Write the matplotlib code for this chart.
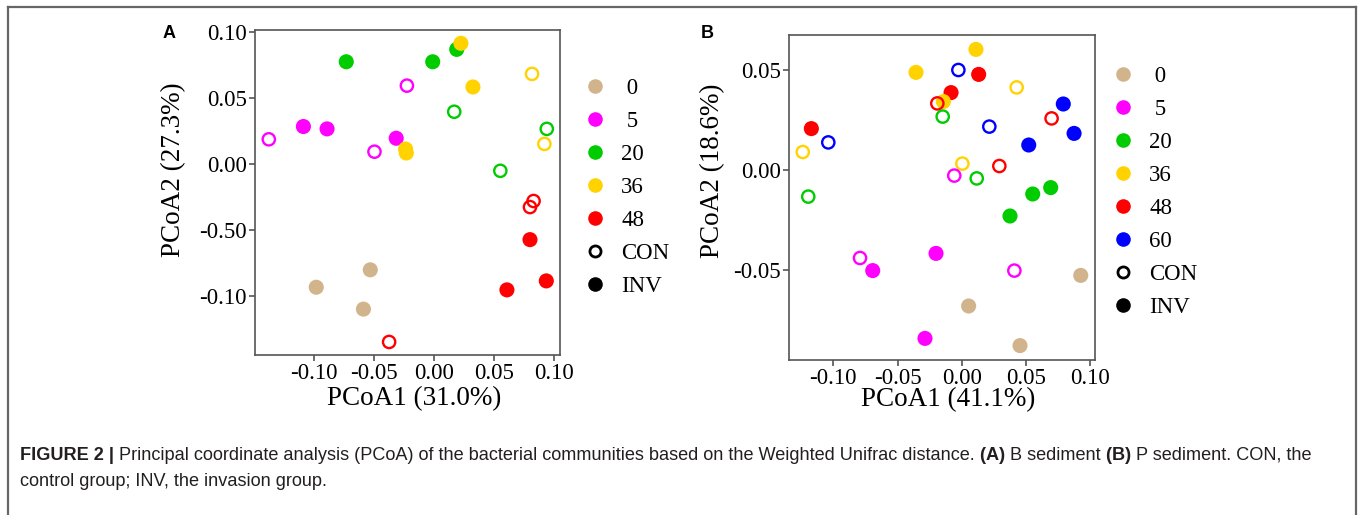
import numpy as np
import matplotlib
matplotlib.use("Agg")
import matplotlib.pyplot as plt
from matplotlib.lines import Line2D

plt.rcParams['font.family'] = ['Liberation Serif', 'DejaVu Serif']

W, H = 1360, 515

colors = {'0': '#D2B48C', '5': '#FF00FF', '20': '#00CC00',
          '36': '#FFD200', '48': '#FF0000', '60': '#0000FF'}

# panel A (B sediment)
a_x = [-0.073, -0.001, 0.019, 0.0225, 0.0325, 0.0817, -0.0225, 0.0169,
       -0.1087, -0.089, -0.1375, -0.0314, -0.0495, -0.0236, -0.023,
       0.094, 0.092, 0.0553, 0.083, 0.080, 0.080, 0.0936, 0.0608,
       -0.053, -0.098, -0.0587, -0.0373]
a_y = [0.0776, 0.0776, 0.087, 0.0916, 0.0585, 0.0684, 0.0595, 0.0397,
       0.0285, 0.0267, 0.0188, 0.0196, 0.0094, 0.0114, 0.0084,
       0.0267, 0.0153, -0.0051, -0.028, -0.0326, -0.0573, -0.0886, -0.0954,
       -0.0802, -0.0934, -0.110, -0.1349]
a_group = ['20', '20', '20', '36', '36', '36', '5', '20',
           '5', '5', '5', '5', '5', '36', '36',
           '20', '36', '20', '48', '48', '48', '48', '48',
           '0', '0', '0', '48']
a_type = ['INV', 'INV', 'INV', 'INV', 'INV', 'CON', 'CON', 'CON',
          'INV', 'INV', 'CON', 'INV', 'CON', 'INV', 'INV',
          'CON', 'CON', 'CON', 'CON', 'CON', 'INV', 'INV', 'INV',
          'INV', 'INV', 'INV', 'CON']

# panel B (P sediment)
b_x = [0.0111, -0.0356, -0.0026, 0.0132, 0.0428, -0.0083, -0.0143, -0.019,
       -0.0148, 0.0791, 0.070, 0.0215, 0.0875, 0.0522, -0.1171, -0.1039,
       -0.1238, 0.0005, 0.0293, -0.0058, 0.0117, 0.0693, 0.0553, 0.0376,
       -0.1195, -0.0792, -0.0693, -0.020, 0.041, 0.0927, 0.0054, -0.0286,
       0.0454]
b_y = [0.0603, 0.0488, 0.050, 0.0478, 0.0413, 0.0387, 0.0342, 0.0333,
       0.0267, 0.033, 0.0258, 0.0217, 0.0183, 0.0125, 0.0207, 0.0138,
       0.009, 0.0032, 0.002, -0.0028, -0.0042, -0.0088, -0.012, -0.023,
       -0.0133, -0.044, -0.0503, -0.0417, -0.0503, -0.0527, -0.068, -0.0842,
       -0.0878]
b_group = ['36', '36', '60', '48', '36', '48', '36', '48',
           '20', '60', '48', '60', '60', '60', '48', '60',
           '36', '36', '48', '5', '20', '20', '20', '20',
           '20', '5', '5', '5', '5', '0', '0', '5',
           '0']
b_type = ['INV', 'INV', 'CON', 'INV', 'CON', 'INV', 'INV', 'CON',
          'CON', 'INV', 'CON', 'CON', 'INV', 'INV', 'INV', 'CON',
          'CON', 'CON', 'CON', 'CON', 'CON', 'INV', 'INV', 'INV',
          'CON', 'CON', 'INV', 'INV', 'CON', 'INV', 'INV', 'INV',
          'INV']

a_ticks_x = [-0.10, -0.05, 0.00, 0.05, 0.10]
a_ticks_y = [0.10, 0.05, 0.00, -0.05, -0.10]
a_ticklabels_y = ['0.10', '0.05', '0.00', '-0.50', '-0.10']
b_ticks_x = [-0.10, -0.05, 0.00, 0.05, 0.10]
b_ticks_y = [0.05, 0.00, -0.05]

fig = plt.figure(figsize=(W / 100, H / 100), dpi=100)


def px_axes(l, t, r, b):
    return fig.add_axes([l / W, 1 - b / H, (r - l) / W, (b - t) / H])


def draw_panel(ax, xs, ys, groups, types):
    for x, y, g, t in zip(xs, ys, groups, types):
        if t == 'INV':
            ax.scatter(x, y, s=118, c=colors[g], edgecolors='none', zorder=3)
        else:
            ax.scatter(x, y, s=78, facecolors='none', edgecolors=colors[g],
                       linewidths=1.7, zorder=3)
    for sp in ax.spines.values():
        sp.set_color('#555555')
        sp.set_linewidth(1.2)
    ax.tick_params(length=4.5, width=1.2, color='#555555', labelsize=16.5,
                   pad=1.5)


def draw_legend(groups, x0, y0):
    handles = [Line2D([], [], ls='none', marker='o', ms=10.5, mfc=colors[g],
                      mec='none') for g in groups]
    handles.append(Line2D([], [], ls='none', marker='o', ms=8, mfc='none',
                          mec='black', mew=2))
    handles.append(Line2D([], [], ls='none', marker='o', ms=10.5, mfc='black',
                          mec='none'))
    labels = [' ' + g if len(g) == 1 else g for g in groups] + ['CON', 'INV']
    fig.legend(handles, labels, loc='upper left',
               bbox_to_anchor=(x0 / W, 1 - y0 / H), frameon=False,
               fontsize=16.5, labelspacing=0.52, handletextpad=0.55,
               handlelength=1.2, borderpad=0, borderaxespad=0)


axA = px_axes(255, 30, 560, 355)
draw_panel(axA, a_x, a_y, a_group, a_type)
axA.set_xlim(-0.149, 0.105)
axA.set_ylim(-0.1448, 0.1017)
axA.set_xticks(a_ticks_x)
axA.set_xticklabels(['%.2f' % v for v in a_ticks_x])
axA.set_yticks(a_ticks_y)
axA.set_yticklabels(a_ticklabels_y)

axB = px_axes(789, 35, 1095, 360)
draw_panel(axB, b_x, b_y, b_group, b_type)
axB.set_xlim(-0.1345, 0.1038)
axB.set_ylim(-0.095, 0.0675)
axB.set_xticks(b_ticks_x)
axB.set_xticklabels(['%.2f' % v for v in b_ticks_x])
axB.set_yticks(b_ticks_y)
axB.set_yticklabels(['%.2f' % v for v in b_ticks_y])

draw_legend(['0', '5', '20', '36', '48'], 581, 78)
draw_legend(['0', '5', '20', '36', '48', '60'], 1109, 66)

# axis labels
fig.text(414 / W, 1 - 399 / H, 'PCoA1 (31.0%)', fontsize=19.5,
         ha='center', va='center')
fig.text(174 / W, 1 - 170 / H, 'PCoA2 (27.3%)', fontsize=19.5,
         ha='center', va='center', rotation=90)
fig.text(948 / W, 1 - 400 / H, 'PCoA1 (41.1%)', fontsize=19.5,
         ha='center', va='center')
fig.text(713 / W, 1 - 171 / H, 'PCoA2 (18.6%)', fontsize=19.5,
         ha='center', va='center', rotation=90)

# panel letters
fig.text(163 / W, 1 - 34 / H, 'A', fontsize=13, fontweight='bold',
         family='Liberation Sans', va='center')
fig.text(701 / W, 1 - 34 / H, 'B', fontsize=13, fontweight='bold',
         family='Liberation Sans', va='center')

# caption, mixing bold and regular runs
fig.canvas.draw()
renderer = fig.canvas.get_renderer()


def caption_line(parts, x, y):
    for txt, wt in parts:
        t = fig.text(x / W, 1 - y / H, txt, fontsize=13.1, fontweight=wt,
                     family='Liberation Sans', color='#231f20', va='center')
        x += t.get_window_extent(renderer).width


caption_line([('FIGURE 2 | ', 'bold'),
              ('Principal coordinate analysis (PCoA) of the bacterial '
               'communities based on the Weighted Unifrac distance. ', 'normal'),
              ('(A) ', 'bold'), ('B sediment ', 'normal'),
              ('(B) ', 'bold'), ('P sediment. CON, the', 'normal')], 20, 455)
caption_line([('control group; INV, the invasion group.', 'normal')], 20, 482)

# border around the figure
frame_kw = dict(color='#666666', lw=1.6, transform=fig.transFigure)
fig.add_artist(Line2D([8 / W, 8 / W], [0, 1 - 7 / H], **frame_kw))
fig.add_artist(Line2D([8 / W, 1356 / W], [1 - 7 / H, 1 - 7 / H], **frame_kw))
fig.add_artist(Line2D([1356 / W, 1356 / W], [0, 1 - 7 / H], **frame_kw))

fig.savefig('out.png', dpi=100)
